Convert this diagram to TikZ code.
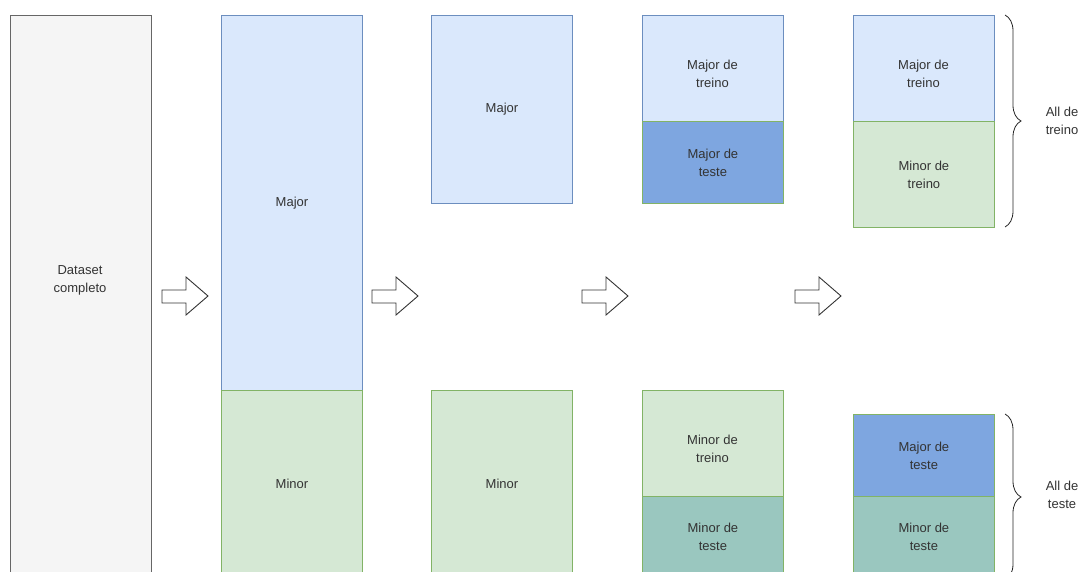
\documentclass[tikz,border=0pt]{standalone}
\usepackage{fontspec}
\setmainfont{Liberation Sans}
\usetikzlibrary{decorations.pathreplacing}
\definecolor{gfill}{HTML}{F5F5F5}
\definecolor{gline}{HTML}{666666}
\definecolor{bfill}{HTML}{DAE8FC}
\definecolor{bline}{HTML}{6C8EBF}
\definecolor{nfill}{HTML}{D5E8D4}
\definecolor{nline}{HTML}{82B366}
\definecolor{dbfill}{HTML}{7EA6E0}
\definecolor{tfill}{HTML}{9AC7BF}
\definecolor{txt}{HTML}{333333}
\begin{document}
\begin{tikzpicture}[x=1pt,y=-1pt,
  box/.style={draw,line width=0.9pt,anchor=north west,inner sep=0pt,minimum width=141pt,
     text=txt,font=\fontsize{13}{18}\selectfont,align=center},
  grey/.style={box,fill=gfill,draw=gline},
  blue/.style={box,fill=bfill,draw=bline},
  green/.style={box,fill=nfill,draw=nline},
  dblue/.style={box,fill=dbfill,draw=nline},
  teal/.style={box,fill=tfill,draw=nline},
  lbl/.style={text=txt,font=\fontsize{13}{18}\selectfont,align=center},
  barrow/.style={draw=black!80,line width=0.9pt,fill=white,line join=miter},
  brc/.style={draw=black!85,line width=0.8pt,decorate,decoration={brace,amplitude=16pt}}
]
\useasboundingbox (0,0) rectangle (1085,572);
\begin{scope}
\clip (0,0) rectangle (1085,572);
% column 1
\node[grey,minimum height=561pt] (ds) at (10,15) {};
\node[lbl] (dst) at (80,280) {Dataset\\completo};
% column 2
\node[blue,minimum height=375pt] (maj2) at (221,15) {Major};
\node[green,minimum height=186pt] (min2) at (221,390) {Minor};
% column 3
\node[blue,minimum height=188pt] (maj3) at (431,15) {Major};
\node[green,minimum height=186pt] (min3) at (431,390) {Minor};
% column 4
\node[blue,minimum height=106pt] (majtr4) at (642,15) {};
\node[lbl] (majtr4t) at (712.5,74) {Major de\\treino};
\node[dblue,minimum height=82pt] (majte4) at (642,121) {Major de\\teste};
\node[green,minimum height=106pt] (mintr4) at (642,390) {};
\node[lbl] (mintr4t) at (712.5,449) {Minor de\\treino};
\node[teal,minimum height=80pt] (minte4) at (642,496) {Minor de\\teste};
% column 5
\node[blue,minimum height=106pt] (majtr5) at (853,15) {};
\node[lbl] (majtr5t) at (923.5,74) {Major de\\treino};
\node[green,minimum height=106pt] (mintr5) at (853,121) {Minor de\\treino};
\node[dblue,minimum height=82pt] (majte5) at (853,414) {Major de\\teste};
\node[teal,minimum height=80pt] (minte5) at (853,496) {Minor de\\teste};
\end{scope}
% block arrows
\foreach \ax/\nm in {162/a1,372/a2,582/a3,795/a4}{
  \draw[barrow] (\ax,290) -- (\ax+24,290) -- (\ax+24,277) -- (\ax+46,296)
     -- (\ax+24,315) -- (\ax+24,303) -- (\ax,303) -- cycle;
}
% braces
\coordinate (b1s) at (1005,15);
\coordinate (b1e) at (1005,227);
\coordinate (b2s) at (1005,414);
\coordinate (b2e) at (1005,580);
\draw[brc] (b1s) -- (b1e);
\begin{scope}
\clip (0,0) rectangle (1085,572);
\draw[brc] (b2s) -- (b2e);
\end{scope}
\node[lbl] (alltr) at (1062,121) {All de\\treino};
\node[lbl] (allte) at (1062,495) {All de\\teste};
\end{tikzpicture}
\end{document}
